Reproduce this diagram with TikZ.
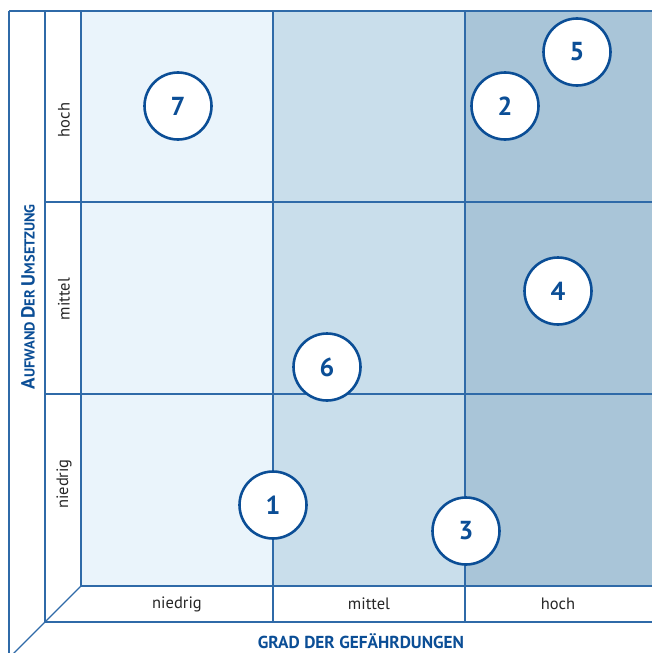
\documentclass[tikz,border=0pt]{standalone}
\usepackage{fontspec}
\setmainfont{PT Sans}
\definecolor{lineblue}{HTML}{2F6AA8}
\definecolor{darkblue}{HTML}{0B4E96}
\definecolor{lowfill}{HTML}{EAF4FB}
\definecolor{midfill}{HTML}{C9DEEB}
\definecolor{highfill}{HTML}{A9C5D8}
\begin{document}
\begin{tikzpicture}[x=1pt, y=-1pt,
    grid/.style = {draw=lineblue, line width=1.2pt},
    risk/.style = {draw=darkblue, circle, fill=white, line width=2.6pt, minimum size=67pt, inner sep=0pt,
                   text=darkblue, font=\fontsize{26}{26}\selectfont\bfseries},
    level/.style = {font=\fontsize{16.5}{16.5}\selectfont, text=black!85},
    axis/.style = {text=darkblue, font=\bfseries}]
    \useasboundingbox (0,0) rectangle (652,653);
    \clip (0,0) rectangle (652,653);

    % cells
    \fill[lowfill] (81,11) rectangle (273,586);
    \fill[midfill] (273,11) rectangle (465,586);
    \fill[highfill] (465,11) rectangle (652,586);

    % frame
    \draw[grid] (9,11) -- (652,11);
    \draw[grid] (9,11) -- (9,653);
    \draw[grid] (45,11) -- (45,622) -- (652,622);
    \draw[grid] (81,11) -- (81,586) -- (652,586);
    \draw[grid] (81,586) -- (0,667);
    \draw[grid] (45,202) -- (652,202);
    \draw[grid] (45,394) -- (652,394);
    \draw[grid] (273,11) -- (273,622);
    \draw[grid] (465,11) -- (465,622);

    % levels
    \node[level, rotate=90] (yh) at (64,120) {hoch};
    \node[level, rotate=90] (ym) at (64,299) {mittel};
    \node[level, rotate=90] (yn) at (64,484) {niedrig};
    \node[level] (xn) at (177,604) {niedrig};
    \node[level] (xm) at (369,604) {mittel};
    \node[level] (xh) at (558,604) {hoch};

    % axes
    \node[axis, rotate=90] (aufwand) at (28,297)
        {\fontsize{19}{19}\selectfont A\fontsize{14.5}{15}\selectfont UFWAND
         \fontsize{19}{19}\selectfont D\fontsize{14.5}{15}\selectfont ER
         \fontsize{19}{19}\selectfont U\fontsize{14.5}{15}\selectfont MSETZUNG};
    \node[axis] (grad) at (361,641) {\fontsize{17.3}{17.3}\selectfont GRAD DER GEFÄHRDUNGEN};

    % measures
    \node[risk] (1) at (273,505) {1};
    \node[risk] (2) at (505,106) {2};
    \node[risk] (3) at (466,531) {3};
    \node[risk] (4) at (558,291) {4};
    \node[risk] (5) at (577,52) {5};
    \node[risk] (6) at (327,367) {6};
    \node[risk] (7) at (178,106) {7};
\end{tikzpicture}
\end{document}
